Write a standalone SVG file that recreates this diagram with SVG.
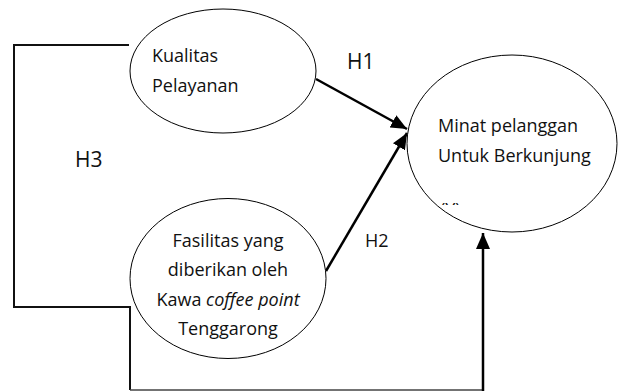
<svg xmlns="http://www.w3.org/2000/svg" width="619" height="392" viewBox="0 0 619 392">
  <style>
    .node { fill: #fff; stroke: #000; stroke-width: 1; }
    .lbl { font-family: "Open Sans", "Noto Sans", sans-serif; font-size: 18px; fill: #111; }
    .h { font-family: "Open Sans", "Noto Sans", sans-serif; fill: #111; }
    .conn { fill: none; stroke: #000; stroke-width: 2.5; }
    .bracket { fill: none; stroke: #111; stroke-width: 2; }
  </style>
  <defs>
    <marker id="ah" markerUnits="userSpaceOnUse" markerWidth="16" markerHeight="14" refX="16" refY="7" orient="auto">
      <path d="M0,0 L16,7 L0,14 Z" fill="#000"/>
    </marker>
    <clipPath id="yclip"><rect x="430" y="195" width="40" height="10"/></clipPath>
  </defs>

  <g id="connectors">
    <line class="conn" x1="316" y1="79" x2="407" y2="129" marker-end="url(#ah)"/>
    <line class="conn" x1="326" y1="271" x2="407" y2="133" marker-end="url(#ah)"/>
    <polyline class="bracket" points="129,45 14,45 14,307 130,307 130,390"/>
    <line x1="130" y1="390" x2="484" y2="390" stroke="#444" stroke-width="1.6"/>
    <line class="conn" x1="483" y1="391" x2="483" y2="233" marker-end="url(#ah)"/>
    <text class="h" x="347" y="69" font-size="21">H1</text>
    <text class="h" x="365" y="247" font-size="18">H2</text>
    <text class="h" x="75" y="167" font-size="21">H3</text>
  </g>

  <g id="kualitas">
    <ellipse class="node" cx="223" cy="71" rx="93" ry="62"/>
    <text class="lbl" x="152" y="62">Kualitas</text>
    <text class="lbl" x="152" y="92">Pelayanan</text>
  </g>

  <g id="minat">
    <ellipse class="node" cx="512" cy="143.5" rx="105" ry="88.5"/>
    <text class="lbl" x="438" y="132">Minat pelanggan</text>
    <text class="lbl" x="438" y="162">Untuk Berkunjung</text>
    <text class="lbl" x="440" y="216" font-size="14" clip-path="url(#yclip)">(Y)</text>
  </g>

  <g id="fasilitas">
    <ellipse class="node" cx="228" cy="278.5" rx="98" ry="80"/>
    <text class="lbl" x="228" y="247" text-anchor="middle">Fasilitas yang</text>
    <text class="lbl" x="228" y="276" text-anchor="middle">diberikan oleh</text>
    <text class="lbl" x="228" y="306" text-anchor="middle">Kawa <tspan font-style="italic">coffee point</tspan></text>
    <text class="lbl" x="228" y="335" text-anchor="middle">Tenggarong</text>
  </g>
</svg>
